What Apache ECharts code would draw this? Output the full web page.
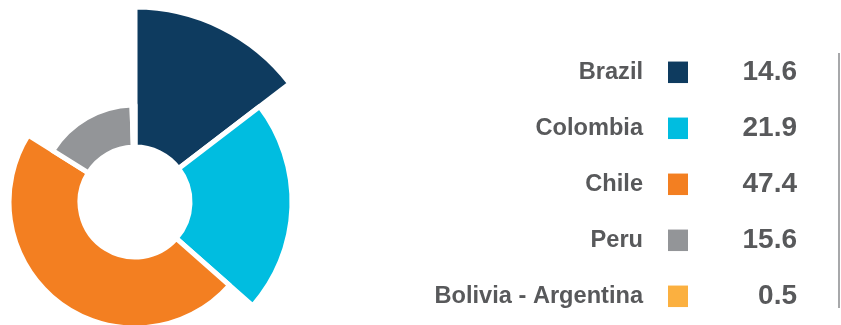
<!DOCTYPE html>
<html>
<head>
<meta charset="utf-8">
<script src="https://cdn.jsdelivr.net/npm/echarts@6/dist/echarts.min.js"></script>
<style>
  html, body { margin: 0; padding: 0; background: #ffffff; }
  #chart { width: 841px; height: 325px; }
</style>
</head>
<body>
<div id="chart"></div>
<script>
// Share of total by country (%)
const countries = ['Brazil', 'Colombia', 'Chile', 'Peru', 'Bolivia - Argentina'];
const shares = [14.6, 21.9, 47.4, 15.6, 0.5];
const valueLabels = ['14.6', '21.9', '47.4', '15.6', '0.5'];

// Styling per country
const colors = ['#0E3B5F', '#00BDE0', '#F37F21', '#939598', '#FBB040'];
const outerRadius = [195, 157, 126, 97, 97];

const center = [135, 202];
const innerRadius = 55;
const gap = 5;

// Key rows: name | swatch | value
const rowCenter0 = 72.3;
const rowStep = 56;
const swatchX = 668;
const swatchW = 20;
const swatchH = 21.5;
const nameRight = 643;
const valueRight = 797;
const textColor = '#58595B';
const fontStack = '"Liberation Sans", Arial, sans-serif';

const chart = echarts.init(document.getElementById('chart'), null, { renderer: 'canvas' });

// One pie per country: each draws the full circle of shares so the angles
// line up, but only its own slice is painted, with its own outer radius.
const series = countries.map((name, k) => ({
  type: 'pie',
  silent: true,
  animation: false,
  center: center,
  radius: [innerRadius, outerRadius[k]],
  startAngle: 90,
  clockwise: true,
  label: { show: false },
  labelLine: { show: false },
  emphasis: { disabled: true },
  data: countries.map((n, i) => ({
    name: n,
    value: shares[i],
    itemStyle: i === k
      ? { color: colors[i], borderColor: '#ffffff', borderWidth: gap }
      : { color: 'rgba(0,0,0,0)', borderWidth: 0 }
  }))
}));

const keyRows = [];
countries.forEach((name, i) => {
  const cy = rowCenter0 + i * rowStep;
  keyRows.push({
    type: 'text', silent: true, x: nameRight, y: cy,
    style: {
      text: name, align: 'right', verticalAlign: 'middle',
      fill: textColor, font: 'bold 23.6px ' + fontStack
    }
  });
  keyRows.push({
    type: 'rect', silent: true,
    shape: { x: swatchX, y: cy - swatchH / 2, width: swatchW, height: swatchH },
    style: { fill: colors[i] }
  });
  keyRows.push({
    type: 'text', silent: true, x: valueRight, y: cy,
    style: {
      text: valueLabels[i], align: 'right', verticalAlign: 'middle',
      fill: textColor, font: 'bold 28px ' + fontStack
    }
  });
});

chart.setOption({
  backgroundColor: '#ffffff',
  animation: false,
  graphic: [
    ...keyRows,
    {
      type: 'line',
      silent: true,
      shape: { x1: 839, y1: 53, x2: 839, y2: 308 },
      style: { stroke: '#A7A8AA', lineWidth: 2 }
    }
  ],
  series: series
});
</script>
</body>
</html>
